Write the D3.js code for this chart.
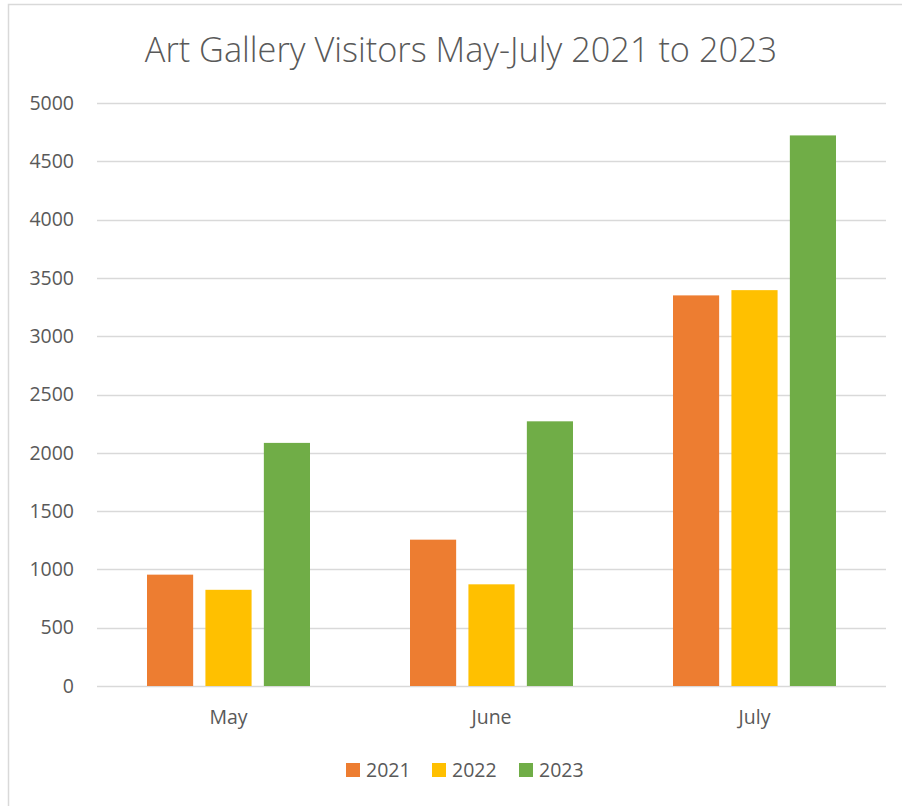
<!DOCTYPE html>
<html>
<head>
<meta charset="utf-8">
<script src="https://cdn.jsdelivr.net/npm/d3@7"></script>
<style>
  html, body { margin: 0; padding: 0; background: #fff; }
  svg { display: block; font-family: "Open Sans", sans-serif; }
</style>
</head>
<body>
<svg id="chart" width="902" height="806"></svg>
<script>
// Visitor counts per month, one array per year
const months = ["May", "June", "July"];
const years = ["2021", "2022", "2023"];
const visitors2021 = [955, 1255, 3350];
const visitors2022 = [825, 872, 3395];
const visitors2023 = [2085, 2270, 4722];
const yTicks = [0, 500, 1000, 1500, 2000, 2500, 3000, 3500, 4000, 4500, 5000];
const colors = ["#ED7D31", "#FFC000", "#70AD47"];

const series = [visitors2021, visitors2022, visitors2023];

const svg = d3.select("#chart");
const W = 902, H = 806;
const textColor = "#595959";
const font = "'Open Sans', sans-serif";

// chart area frame
svg.append("rect")
  .attr("x", 8.5).attr("y", 4.5)
  .attr("width", W + 10).attr("height", H + 10)
  .attr("fill", "#fff")
  .attr("stroke", "#d9d9d9").attr("stroke-width", 1.5);

svg.append("text")
  .attr("x", 461).attr("y", 62)
  .attr("text-anchor", "middle")
  .attr("font-size", 34.3)
  .attr("font-weight", 300)
  .attr("fill", textColor)
  .text("Art Gallery Visitors May-July 2021 to 2023");

const plot = { left: 97, right: 886, top: 103, bottom: 686 };

const y = d3.scaleLinear().domain([0, 5000]).range([plot.bottom, plot.top]);
const x0 = d3.scaleBand().domain(months).range([plot.left, plot.right]).padding(0);
const groupPad = 50;
const x1 = d3.scaleBand().domain(years)
  .range([groupPad, x0.bandwidth() - groupPad])
  .paddingInner(0.21).paddingOuter(0);

// gridlines
svg.append("g")
  .selectAll("line")
  .data(yTicks)
  .join("line")
  .attr("x1", plot.left).attr("x2", plot.right)
  .attr("y1", d => Math.round(y(d)) + 0.5)
  .attr("y2", d => Math.round(y(d)) + 0.5)
  .attr("stroke", "#d9d9d9").attr("stroke-width", 1.3);

// y axis labels
const yAxis = d3.axisLeft(y).tickValues(yTicks).tickFormat(d3.format("d"))
  .tickSize(0).tickPadding(0);
const gy = svg.append("g").attr("transform", `translate(74,0)`).call(yAxis);
gy.select(".domain").remove();
gy.selectAll("text")
  .attr("font-family", font)
  .attr("font-size", 19.5)
  .attr("fill", textColor);

// bars
const groups = svg.append("g")
  .selectAll("g")
  .data(months)
  .join("g")
  .attr("transform", d => `translate(${x0(d)},0)`);

groups.selectAll("rect")
  .data((m, i) => years.map((yr, k) => ({ year: yr, value: series[k][i], k })))
  .join("rect")
  .attr("x", d => x1(d.year))
  .attr("width", x1.bandwidth())
  .attr("y", d => y(d.value))
  .attr("height", d => y(0) - y(d.value))
  .attr("fill", d => colors[d.k]);

// x axis labels
const xAxis = d3.axisBottom(x0).tickSize(0).tickPadding(0);
const gx = svg.append("g").attr("transform", `translate(0,${plot.bottom + 38})`).call(xAxis);
gx.select(".domain").remove();
gx.selectAll("text")
  .attr("dy", 0)
  .attr("font-family", font)
  .attr("font-size", 19.5)
  .attr("fill", textColor);

// legend
const legendX = [346, 432, 519];
const legend = svg.append("g")
  .selectAll("g")
  .data(years)
  .join("g")
  .attr("transform", (d, i) => `translate(${legendX[i]},763)`);
legend.append("rect")
  .attr("width", 14).attr("height", 14)
  .attr("fill", (d, i) => colors[i]);
legend.append("text")
  .attr("x", 20).attr("y", 14)
  .attr("font-size", 19.5)
  .attr("fill", textColor)
  .text(d => d);
</script>
</body>
</html>
